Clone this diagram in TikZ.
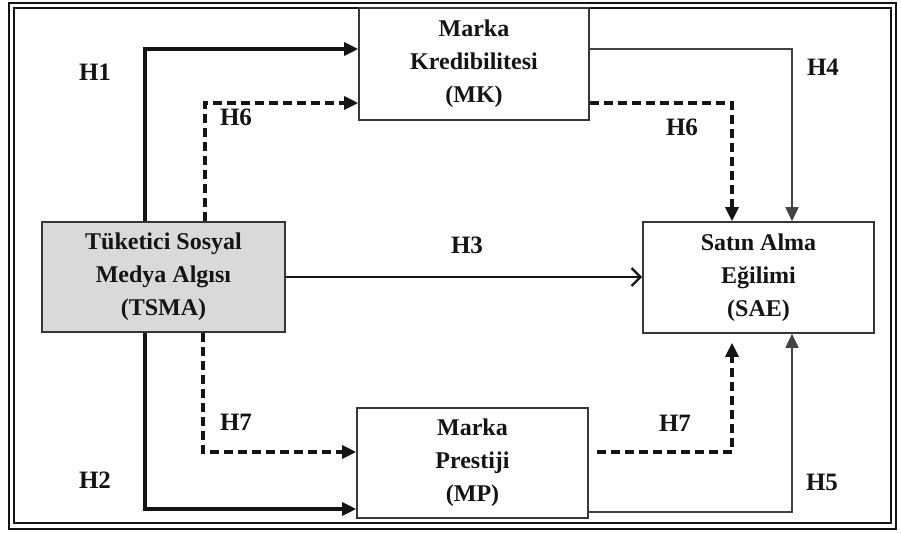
\documentclass[tikz,border=0pt]{standalone}
\usepackage{fontspec}
\setmainfont{Liberation Serif}
\usetikzlibrary{arrows.meta}
\definecolor{boxgray}{HTML}{D9D9D9}
\definecolor{ink}{HTML}{141414}
\tikzset{
  x=1pt,y=-1pt,
  box/.style={draw=ink!85, line width=1.6pt, fill=white, align=center,
    font=\fontsize{24}{33}\selectfont\bfseries, text=ink, inner sep=0pt},
  lbl/.style={font=\fontsize{25}{28}\selectfont\bfseries, text=ink, inner sep=0pt},
  tri/.style={-{Triangle[length=14pt,width=13pt]}},
  strong/.style={tri, line width=3.2pt, draw=ink},
  dashline/.style={tri, line width=3.2pt, draw=ink, dash pattern=on 9pt off 5pt},
  thinline/.style={tri, line width=1.7pt, draw=ink!80},
  openline/.style={-{Straight Barb[length=9pt,width=18pt,line width=2.4pt]}, line width=2.4pt, draw=ink},
}
\begin{document}
\begin{tikzpicture}
\useasboundingbox (0,0) rectangle (901,533);
\fill[white] (0,0) rectangle (901,533);
% double frame
\draw[line width=2pt, ink] (9,3) rectangle (896,529);
\draw[line width=2pt, ink] (14,8) rectangle (891,523);

% boxes
\node[box, minimum width=230, minimum height=112] (MK) at (474,64) {Marka\\Kredibilitesi\\(MK)};
\node[box, fill=boxgray, minimum width=243, minimum height=110] (TSMA) at (163.5,277) {Tüketici Sosyal\\Medya Algısı\\(TSMA)};
\node[box, minimum width=231, minimum height=111] (SAE) at (758.5,277.5) {Satın Alma\\Eğilimi\\(SAE)};
\node[box, minimum width=231, minimum height=110] (MP) at (472.5,463) {Marka\\Prestiji\\(MP)};

% routing coordinates
\coordinate (c1) at (145,49);
\coordinate (c6a) at (205,103);
\coordinate (c2) at (145,509);
\coordinate (c7a) at (203,452);
\coordinate (c4) at (792,49);
\coordinate (c6b) at (732,103);
\coordinate (c7b) at (732,452);
\coordinate (c5) at (792,512);

% connectors
\draw[strong] (TSMA.north -| c1) |- (MK.west |- c1);
\draw[dashline] (TSMA.north -| c6a) |- (MK.west |- c6a);
\draw[strong] (TSMA.south -| c2) |- (MP.west |- c2);
\draw[dashline] (TSMA.south -| c7a) |- (MP.west |- c7a);
\draw[openline] (TSMA.east) -- (SAE.west |- TSMA.east);
\draw[thinline] (MK.east |- c4) -| (SAE.north -| c4);
\draw[dashline] (MK.east |- c6b) -| (SAE.north -| c6b);
\draw[dashline] ([xshift=8pt]MP.east |- c7b) -| ([yshift=-9pt]SAE.south -| c7b);
\draw[thinline] (MP.east |- c5) -| (SAE.south -| c5);

% labels
\node[lbl] (lH1) at (95,72) {H1};
\node[lbl] (lH6a) at (236,117) {H6};
\node[lbl] (lH6b) at (682,127) {H6};
\node[lbl] (lH4) at (823,67) {H4};
\node[lbl] (lH3) at (467,245) {H3};
\node[lbl] (lH7a) at (236,422) {H7};
\node[lbl] (lH2) at (95,480) {H2};
\node[lbl] (lH7b) at (675,423) {H7};
\node[lbl] (lH5) at (822,482) {H5};
\end{tikzpicture}
\end{document}
